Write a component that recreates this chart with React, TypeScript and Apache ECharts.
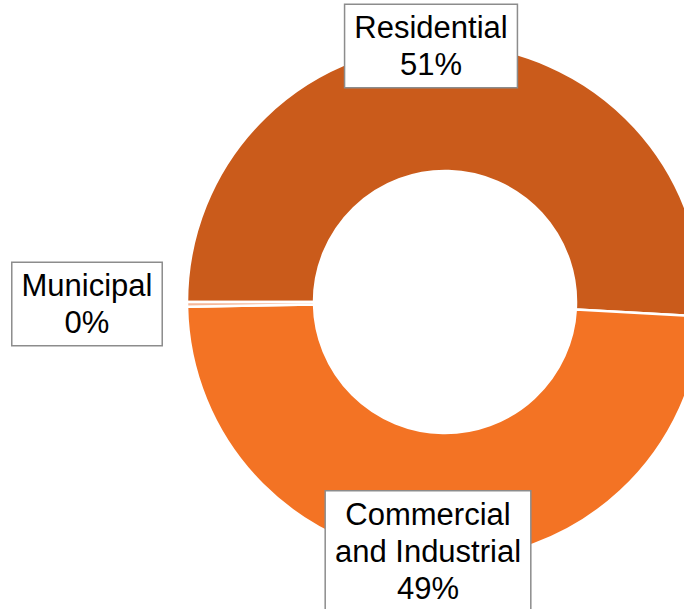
import React, { useEffect, useRef } from "react";
import * as echarts from "echarts";

const categories = ["Residential", "Commercial\nand Industrial", "Municipal"];
const shares = [50.9, 48.8, 0.3];
const colors = ["#CA5B1B", "#F37324", "#F6B89A"];
const labelSpots = [
  { x: 431, y: 46 },
  { x: 428, y: 551 },
  { x: 87, y: 304 },
];

export default function App() {
  const ref = useRef<HTMLDivElement>(null);
  useEffect(() => {
    const chart = echarts.init(ref.current!, null, { renderer: "svg" });
    chart.setOption({
      animation: false,
      backgroundColor: "#ffffff",
      series: [
        {
          type: "pie",
          center: [445, 302],
          radius: [131, 258],
          startAngle: 180,
          clockwise: true,
          avoidLabelOverlap: false,
          itemStyle: { borderColor: "#ffffff", borderWidth: 2.5 },
          label: {
            show: true,
            position: "outside",
            formatter: (p: any) => `${p.name}\n${Math.round(p.percent)}%`,
            fontFamily: "'Liberation Sans', Arial, sans-serif",
            fontSize: 31,
            lineHeight: 37,
            color: "#000000",
            align: "center",
            backgroundColor: "#ffffff",
            borderColor: "#8c8c8c",
            borderWidth: 1.5,
            padding: [4, 9, 4, 9],
          },
          labelLine: { show: false },
          labelLayout: (params: any) => {
            const s = labelSpots[params.dataIndex];
            return { x: s.x, y: s.y, align: "center", verticalAlign: "middle" };
          },
          data: categories.map((name, i) => ({
            name,
            value: shares[i],
            itemStyle: { color: colors[i] },
          })),
        },
      ],
    });
    return () => chart.dispose();
  }, []);
  return (
    <div
      ref={ref}
      style={{ position: "absolute", left: 0, top: 0, width: 684, height: 609 }}
    />
  );
}
